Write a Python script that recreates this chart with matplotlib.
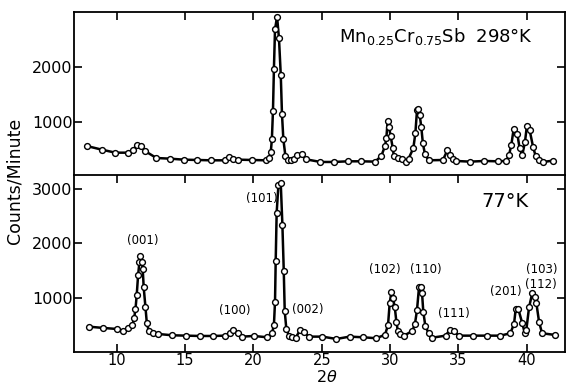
import matplotlib
matplotlib.use('Agg')
import matplotlib.pyplot as plt

plt.rcParams['font.family'] = ['DejaVu Sans']
plt.rcParams['mathtext.fontset'] = 'dejavusans'

# 298 K scan (upper panel)
two_theta_298 = [7.8, 8.9, 9.9, 10.8, 11.2, 11.45, 11.8, 12.1, 12.9, 13.9,
                 14.9, 15.9, 16.9, 17.9, 18.2, 18.5, 18.9, 19.9, 20.9, 21.15,
                 21.27, 21.35, 21.43, 21.5, 21.58, 21.73, 21.87, 22.0, 22.09, 22.19,
                 22.34, 22.5, 22.78, 22.95, 23.2, 23.53, 23.83, 24.9, 25.9, 26.9,
                 27.9, 28.9, 29.36, 29.63, 29.73, 29.82, 29.92, 30.04, 30.2, 30.28,
                 30.57, 30.87, 31.15, 31.35, 31.7, 31.85, 31.97, 32.05, 32.17, 32.28,
                 32.4, 32.55, 32.82, 33.87, 34.19, 34.36, 34.6, 34.85, 35.85, 36.9,
                 37.87, 38.5, 38.7, 38.87, 39.04, 39.31, 39.48, 39.67, 39.87, 40.01,
                 40.21, 40.46, 40.65, 40.9, 41.19, 41.92]
counts_298 = [564, 497, 442, 442, 497, 576, 564, 467, 345, 333,
              315, 309, 303, 303, 370, 333, 315, 309, 303, 345,
              455, 685, 1200, 1970, 2685, 2915, 2520, 1860, 1140, 685,
              382, 309, 303, 322, 394, 424, 322, 273, 273, 285,
              285, 279, 382, 564, 715, 1013, 915, 745, 521, 376,
              340, 327, 280, 333, 521, 794, 1218, 1240, 1122, 915,
              612, 418, 303, 309, 485, 400, 333, 291, 279, 291,
              285, 291, 394, 582, 867, 782, 521, 394, 636, 927,
              855, 551, 382, 309, 273, 297]

# 77 K scan (lower panel)
two_theta_77 = [7.97, 9.0, 10.0, 10.49, 10.83, 11.15, 11.27, 11.37, 11.46, 11.56,
                11.66, 11.73, 11.83, 11.9, 11.97, 12.1, 12.2, 12.34, 12.63, 13.02,
                14.05, 15.07, 16.07, 17.04, 17.92, 18.27, 18.51, 18.85, 19.17, 20.02,
                21.02, 21.36, 21.5, 21.58, 21.63, 21.7, 21.83, 22.0, 22.12, 22.22,
                22.29, 22.41, 22.6, 22.85, 23.09, 23.43, 23.7, 24.07, 25.04, 26.07,
                27.04, 28.02, 29.0, 29.63, 29.85, 29.97, 30.1, 30.21, 30.34, 30.46,
                30.57, 30.7, 31.02, 31.63, 31.82, 31.97, 32.12, 32.29, 32.34, 32.43,
                32.58, 32.82, 33.09, 34.07, 34.36, 34.67, 35.02, 36.07, 37.09, 38.07,
                38.8, 39.07, 39.19, 39.39, 39.66, 39.85, 39.97, 40.17, 40.4, 40.57,
                40.7, 40.9, 41.12, 42.07]
counts_77 = [466, 443, 424, 382, 443, 503, 621, 792, 1050, 1412,
             1662, 1773, 1657, 1523, 1190, 823, 529, 393, 356, 332,
             308, 301, 295, 295, 301, 345, 406, 356, 283, 295,
             271, 345, 498, 926, 1681, 2564, 3074, 3104, 2338, 1491,
             755, 419, 301, 283, 264, 406, 363, 283, 283, 240,
             283, 271, 253, 319, 498, 897, 1110, 990, 834, 558,
             382, 332, 301, 387, 516, 774, 1202, 1202, 1080, 742,
             479, 345, 264, 301, 406, 387, 301, 301, 301, 301,
             345, 516, 786, 786, 540, 356, 406, 823, 1080, 1018,
             908, 558, 345, 314]

# reflection labels for the 77 K pattern
hkl_labels = ['(001)', '(100)', '(101)', '(002)', '(102)', '(110)', '(111)', '(201)', '(103)', '(112)']
hkl_x = [11.9, 18.6, 20.6, 24.0, 29.6, 32.65, 34.7, 38.5, 41.07, 41.07]
hkl_y = [2050, 760, 2830, 775, 1510, 1510, 715, 1110, 1525, 1250]

x_ticks = [10, 15, 20, 25, 30, 35, 40]

fig = plt.figure(figsize=(5.66, 3.85), dpi=100)
ax_top = fig.add_axes([74 / 566, 1 - 175 / 385, 491 / 566, 163 / 385])
ax_bot = fig.add_axes([74 / 566, 1 - 352 / 385, 491 / 566, 177 / 385])

line_kw = dict(color='black', lw=1.8, marker='o', markersize=4.2,
               markerfacecolor='white', markeredgecolor='black', markeredgewidth=1.0)

ax_top.plot(two_theta_298, counts_298, **line_kw)
ax_bot.plot(two_theta_77, counts_77, **line_kw)

for ax in (ax_top, ax_bot):
    ax.set_xlim(6.87, 42.8)
    ax.set_xticks(x_ticks)
    for s in ax.spines.values():
        s.set_linewidth(1.3)
    ax.tick_params(direction='in', length=6, width=1.2, labelsize=11.5, pad=2)

ax_top.set_ylim(36, 3000)
ax_top.set_yticks([1000, 2000])
ax_top.tick_params(axis='x', bottom=False, top=True, labelbottom=False)
ax_top.tick_params(axis='y', left=True, right=True, pad=1)
ax_top.spines['bottom'].set_visible(False)

ax_bot.set_ylim(0, 3258)
ax_bot.set_yticks([1000, 2000, 3000])
ax_bot.tick_params(axis='x', bottom=True, top=True, pad=1, labelsize=10.5)
ax_bot.tick_params(axis='y', left=True, right=True, pad=1)

ax_top.text(0.54, 0.85, r'Mn$_{0.25}$Cr$_{0.75}$Sb  298°K', transform=ax_top.transAxes,
            fontsize=13, ha='left', va='center')
ax_bot.text(0.83, 0.85, '77°K', transform=ax_bot.transAxes,
            fontsize=14, ha='left', va='center')

for lab, hx, hy in zip(hkl_labels, hkl_x, hkl_y):
    ax_bot.text(hx, hy, lab, fontsize=8.5, ha='center', va='center')

fig.text(15 / 566, 1 - 181 / 385, 'Counts/Minute', rotation=90, fontsize=12.5,
         ha='center', va='center')
fig.text(327 / 566, 1 - 376.5 / 385, r'2$\theta$', fontsize=11.5, ha='center', va='center')

fig.savefig('out.png', dpi=100)
